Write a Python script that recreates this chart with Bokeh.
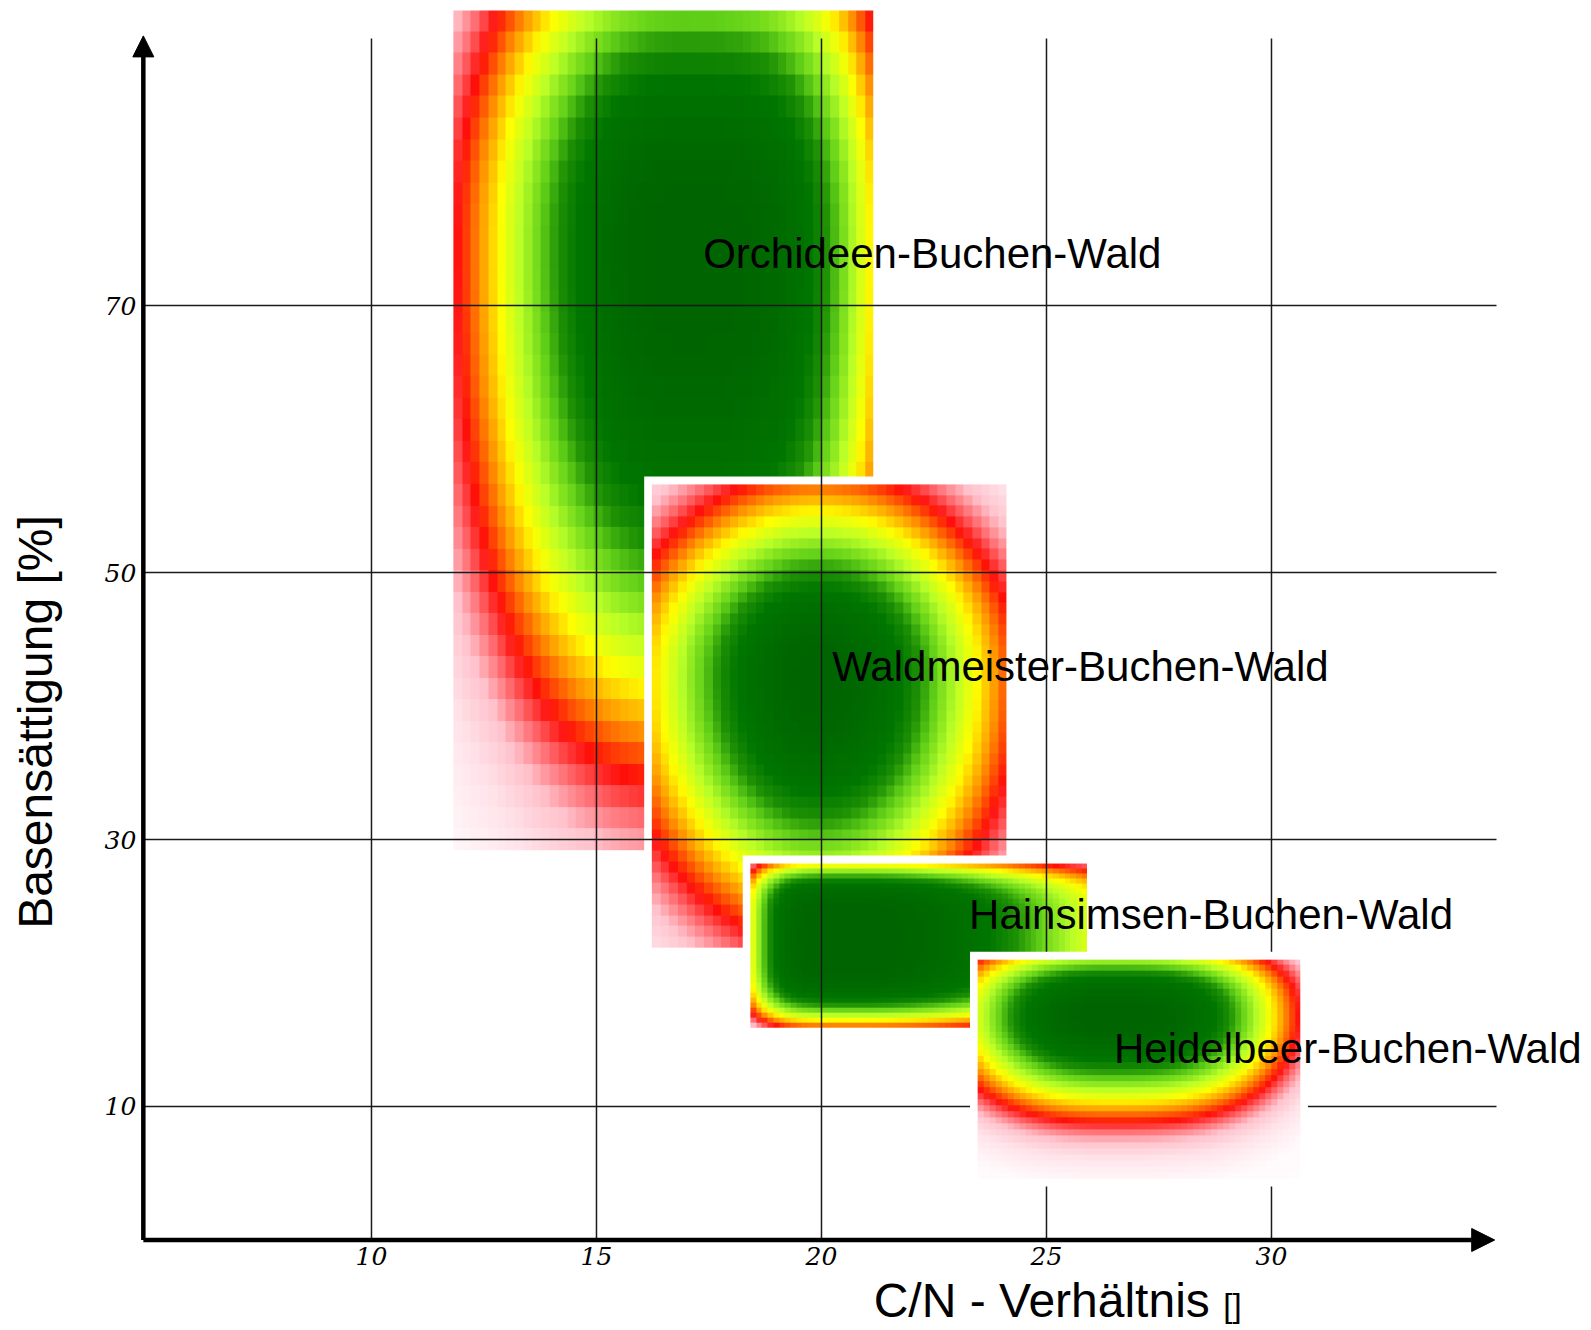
import numpy as np
from bokeh.plotting import figure
from bokeh.models import Range1d, FixedTicker, Arrow, NormalHead, Label
from bokeh.embed import file_html
from bokeh.resources import INLINE
from bokeh.core.properties import value

# ---------------- data ----------------
communities = ["Orchideen-Buchen-Wald", "Waldmeister-Buchen-Wald",
               "Hainsimsen-Buchen-Wald", "Heidelbeer-Buchen-Wald"]
# range of each community: C/N ratio (x) and base saturation % (y)
cn_min = [11.82, 16.23, 18.42, 23.47]
cn_max = [21.15, 24.11, 25.90, 30.64]
bs_min = [29.2, 21.9, 15.9, 4.6]
bs_max = [92.1, 56.6, 28.2, 21.0]
# optimum (centre of the dark core)
cn_opt = [16.9, 19.9, 20.9, 26.45]
bs_opt = [74.6, 42.3, 22.8, 16.5]
# suitability reached at the left / right / bottom / top edge of each range
edge_left = [0.40, 0.55, 0.58, 0.62]
edge_right = [0.55, 0.46, 0.62, 0.40]
edge_bottom = [0.32, 0.42, 0.45, 0.14]
edge_top = [0.72, 0.47, 0.55, 0.66]
# sharpness of the fall-off towards each edge
shape_left = [2.3, 1.9, 5.0, 2.6]
shape_right = [3.4, 2.0, 2.0, 3.0]
shape_bottom = [2.4, 2.1, 4.5, 1.9]
shape_top = [2.2, 2.0, 4.5, 2.6]
# raster resolution of each plotted field (columns, rows)
cells_x = [48, 41, 59, 54]
cells_y = [39, 43, 33, 36]
# label anchors
label_x = [17.37, 20.24, 23.28, 26.50]
label_y = [73.9, 42.96, 24.38, 14.32]

x_ticks = [10, 15, 20, 25, 30]
y_ticks = [10, 30, 50, 70]

# colour scale (suitability -> colour)
stop_v = [0.00, 0.12, 0.22, 0.30, 0.36, 0.42, 0.50, 0.58, 0.66, 0.74, 0.80, 0.86, 1.00]
stop_r = [255, 255, 255, 255, 255, 255, 255, 255, 185, 100, 30, 0, 0]
stop_g = [255, 250, 228, 195, 110, 15, 145, 255, 255, 210, 145, 118, 100]
stop_b = [255, 252, 234, 205, 115, 10, 0, 0, 40, 25, 5, 0, 0]


def side_profile(t, c, lo, hi, vlo, vhi, qlo, qhi):
    d = t - c
    rlo = np.clip(-d / (c - lo), 0, None)
    rhi = np.clip(d / (hi - c), 0, None)
    return np.where(d < 0, vlo ** (rlo ** qlo), vhi ** (rhi ** qhi))


def field_image(k):
    nx, ny = cells_x[k], cells_y[k]
    x0, x1, y0, y1 = cn_min[k], cn_max[k], bs_min[k], bs_max[k]
    xc = x0 + (np.arange(nx) + 0.5) * (x1 - x0) / nx
    yc = y0 + (np.arange(ny) + 0.5) * (y1 - y0) / ny
    fx = side_profile(xc, cn_opt[k], x0, x1, edge_left[k], edge_right[k],
                      shape_left[k], shape_right[k])
    fy = side_profile(yc, bs_opt[k], y0, y1, edge_bottom[k], edge_top[k],
                      shape_bottom[k], shape_top[k])
    v = fy[:, None] * fx[None, :]
    img = np.empty((ny, nx), dtype=np.uint32)
    view = img.view(dtype=np.uint8).reshape((ny, nx, 4))
    view[:, :, 0] = np.interp(v, stop_v, stop_r).astype(np.uint8)
    view[:, :, 1] = np.interp(v, stop_v, stop_g).astype(np.uint8)
    view[:, :, 2] = np.interp(v, stop_v, stop_b).astype(np.uint8)
    view[:, :, 3] = 255
    return img


p = figure(width=1590, height=1328,
           x_range=Range1d(1.756, 37.089), y_range=Range1d(-6.63, 92.85),
           output_backend="svg", toolbar_location=None, min_border=0)
p.outline_line_color = None
p.background_fill_color = "white"
p.border_fill_color = "white"
p.xgrid.visible = False
p.ygrid.visible = False

pad_x = 0.17
pad_y = 0.6


def draw_field(k, border):
    if border:
        p.quad(left=[cn_min[k] - pad_x], right=[cn_max[k] + pad_x],
               bottom=[bs_min[k] - pad_y], top=[bs_max[k] + pad_y],
               fill_color="white", line_color=None)
    p.image_rgba(image=[field_image(k)], x=cn_min[k], y=bs_min[k],
                 dw=cn_max[k] - cn_min[k], dh=bs_max[k] - bs_min[k])


draw_field(0, False)
draw_field(1, True)
draw_field(2, True)

# grid lines
axis_x = 4.93
grid_top = 90
grid_right = 35
p.segment(x0=x_ticks, y0=[0] * len(x_ticks), x1=x_ticks, y1=[grid_top] * len(x_ticks),
          line_color="#1a1a1a", line_width=1.5)
p.segment(x0=[axis_x] * len(y_ticks), y0=y_ticks, x1=[grid_right] * len(y_ticks), y1=y_ticks,
          line_color="#1a1a1a", line_width=1.5)

draw_field(3, True)

# axes with arrows
p.add_layout(Arrow(end=NormalHead(size=23, fill_color="black", line_color="black"),
                   x_start=axis_x, y_start=0, x_end=34.96, y_end=0,
                   line_width=4.5, line_color="black"))
p.add_layout(Arrow(end=NormalHead(size=21, fill_color="black", line_color="black"),
                   x_start=axis_x, y_start=0, x_end=axis_x, y_end=90.2,
                   line_width=4.5, line_color="black"))

# community labels
p.text(x=label_x, y=label_y, text=communities,
       text_font=value("Liberation Sans"), text_font_size="42px",
       text_color="black", text_align="left", text_baseline="alphabetic")

# axes placed at the origin lines (tick labels only, lines drawn as arrows)
for ax in (p.xaxis[0], p.yaxis[0]):
    ax.axis_line_color = None
    ax.major_tick_line_color = None
    ax.minor_tick_line_color = None
    ax.major_label_text_font = "DejaVu Serif"
    ax.major_label_text_font_style = "italic"
    ax.major_label_text_font_size = "25px"
    ax.major_label_text_color = "black"
p.xaxis[0].ticker = FixedTicker(ticks=x_ticks)
p.yaxis[0].ticker = FixedTicker(ticks=y_ticks)
p.xaxis[0].fixed_location = 0
p.yaxis[0].fixed_location = axis_x
p.xaxis[0].major_label_standoff = 1
p.yaxis[0].major_label_standoff = 1

# axis titles
p.add_layout(Label(x=21.16, y=-4.53, text="C/N - Verhältnis",
                   text_font="Liberation Sans", text_font_size="48px",
                   text_align="left", text_baseline="alphabetic", text_color="black"))
p.add_layout(Label(x=28.93, y=-4.91, text="[]",
                   text_font="Liberation Sans", text_font_size="33px",
                   text_align="left", text_baseline="alphabetic", text_color="black"))
p.add_layout(Label(x=2.542, y=38.8, text="Basensättigung [%]", angle=np.pi / 2,
                   text_font="Liberation Sans", text_font_size="48px",
                   text_align="center", text_baseline="alphabetic", text_color="black"))

open("out.html", "w").write(file_html(p, INLINE))
